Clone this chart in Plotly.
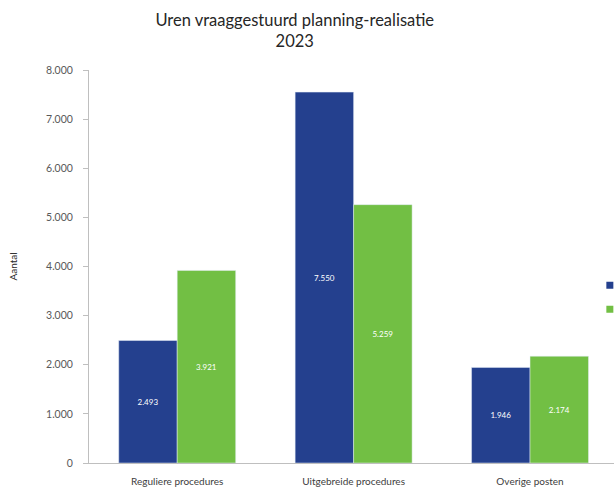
import plotly.graph_objects as go

categorieen = ["Reguliere procedures", "Uitgebreide procedures", "Overige posten"]
planning = [2493, 7550, 1946]
realisatie = [3921, 5259, 2174]
reeks_namen = ["Planning", "Realisatie"]
kleuren = ["#24408E", "#72BF44"]

fig = go.Figure()
for naam, waarden, kleur in zip(reeks_namen, [planning, realisatie], kleuren):
    fig.add_trace(go.Bar(
        x=categorieen, y=waarden, name=naam, marker_color=kleur,
        texttemplate="%{y:,.0f}", textposition="inside", insidetextanchor="middle",
        textfont=dict(color="white", size=8, family="Lato"),
        showlegend=False, cliponaxis=False,
    ))
    # legenda-item met klein vierkantje
    fig.add_trace(go.Scatter(
        x=[None], y=[None], mode="markers", name=naam,
        marker=dict(symbol="square", size=7, color=kleur),
    ))

fig.update_layout(
    width=614, height=491,
    margin=dict(l=89, r=0, t=70, b=28, autoexpand=False),
    paper_bgcolor="white", plot_bgcolor="white",
    separators=",.",
    barmode="group", bargap=0.337, bargroupgap=0,
    font=dict(family="Lato", color="#404040"),
    title=dict(
        text="Uren vraaggestuurd planning-realisatie<br>2023",
        x=0.48, xanchor="center", y=0.947, yanchor="top",
        font=dict(size=16.5, color="#262626", family="Lato"),
    ),
    legend=dict(x=0.954, xanchor="left", y=0.495, yanchor="top",
                font=dict(size=16), bgcolor="rgba(0,0,0,0)"),
    showlegend=True,
)
fig.update_xaxes(
    range=[-0.5, 2.476], showline=True, linecolor="#BFBFBF", linewidth=1,
    ticks="", tickfont=dict(size=10, color="#404040"), ticklabelstandoff=9,
    showgrid=False, zeroline=False,
)
fig.update_yaxes(
    range=[0, 8000], dtick=1000, tickformat=",.0f",
    showline=True, linecolor="#BFBFBF", linewidth=1,
    ticks="outside", ticklen=5, tickcolor="#BFBFBF", ticklabelstandoff=8,
    tickfont=dict(size=10.5, color="#595959"), showgrid=False, zeroline=False,
    title=dict(text="Aantal", font=dict(size=10, color="#262626"), standoff=26),
)

# standaard body-marge van de pagina weghalen, geen modebar
fig.write_html("out.html", config={"displayModeBar": False},
               post_script="document.body.style.margin='0';")
